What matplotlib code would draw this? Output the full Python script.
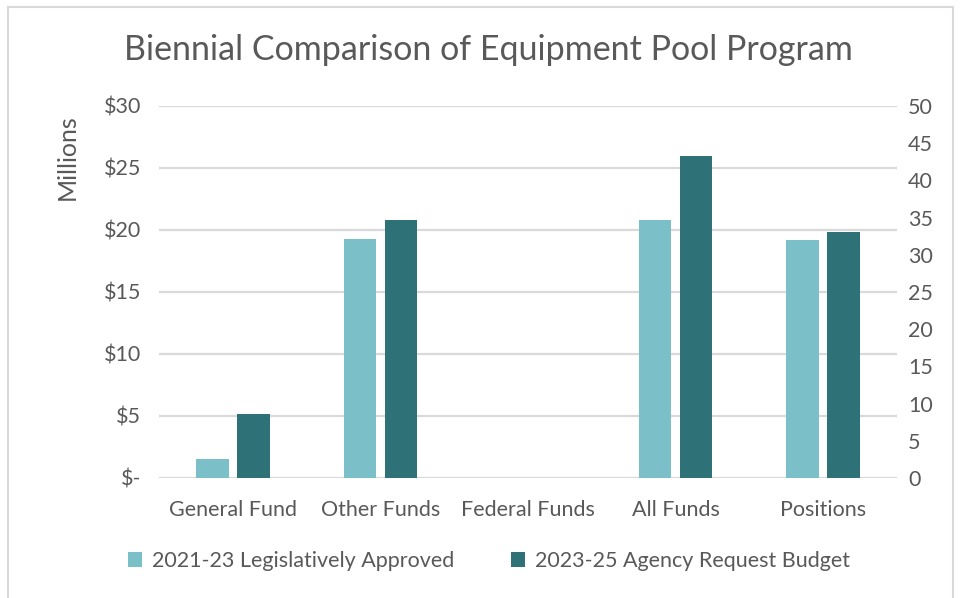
import numpy as np
import matplotlib.pyplot as plt
from matplotlib.patches import Rectangle

# Dados
categorias = ["General Fund", "Other Funds", "Federal Funds", "All Funds", "Positions"]
aprovado_2123 = [1.5, 19.3, 0.0, 20.8]      # milhões de $
pedido_2325 = [5.2, 20.8, 0.0, 26.0]        # milhões de $
posicoes_2123 = 32
posicoes_2325 = 33
series = ["2021-23 Legislatively Approved", "2023-25 Agency Request Budget"]

cor_clara = "#7BC0C8"
cor_escura = "#2E7278"
cor_texto = "#595959"
cor_grade = "#D9D9D9"

plt.rcParams["font.family"] = ["Lato", "DejaVu Sans"]

fig = plt.figure(figsize=(9.61, 5.98), dpi=100)
W, H = 961, 598
ax = fig.add_axes([159 / W, 1 - 478 / H, (897 - 159) / W, (478 - 106) / H])
ax2 = ax.twinx()

x = np.arange(len(categorias))
largura = 0.22
desloc = 0.139

ax.bar(x[:4] - desloc, aprovado_2123, largura, color=cor_clara, label=series[0], zorder=3)
ax.bar(x[:4] + desloc, pedido_2325, largura, color=cor_escura, label=series[1], zorder=3)
ax2.bar(x[4] - desloc, posicoes_2123, largura, color=cor_clara, zorder=3)
ax2.bar(x[4] + desloc, posicoes_2325, largura, color=cor_escura, zorder=3)

ax.set_xlim(-0.5, len(categorias) - 0.5)
ax.set_ylim(0, 30)
ax2.set_ylim(0, 50)
ax.set_yticks(range(0, 31, 5))
ax.set_yticklabels(["$-"] + [f"${v}" for v in range(5, 31, 5)])
ax2.set_yticks(range(0, 51, 5))
ax.set_xticks(x)
ax.set_xticklabels(categorias)

ax.grid(axis="y", color=cor_grade, linewidth=1.6, zorder=0)
for a in (ax, ax2):
    for s in a.spines.values():
        s.set_visible(False)
    a.tick_params(length=0, labelsize=15.5, colors=cor_texto)
ax.tick_params(axis="y", pad=13)
ax.tick_params(axis="x", pad=16)
ax2.tick_params(axis="y", pad=8)

fig.text(67 / W, 1 - 157 / H, "Millions", rotation=90, ha="center", va="center",
         fontsize=18, color=cor_texto)
fig.text(488 / W, 1 - 50 / H, "Biennial Comparison of Equipment Pool Program",
         ha="center", va="center", fontsize=24.5, color=cor_texto)

h, l = ax.get_legend_handles_labels()
fig.legend(h, l, loc="center", bbox_to_anchor=(489 / W, 1 - 561 / H), ncol=2,
           frameon=False, fontsize=15.5, labelcolor=cor_texto, handlelength=0.65,
           handleheight=0.65, handletextpad=0.5, columnspacing=2.6)

fig.patches.append(Rectangle((8 / W, -0.01), (953 - 8) / W, 1 - 7 / H + 0.01,
                             transform=fig.transFigure, fill=False,
                             edgecolor=cor_grade, linewidth=1.5))

plt.savefig("out.png", dpi=100)
plt.close()
